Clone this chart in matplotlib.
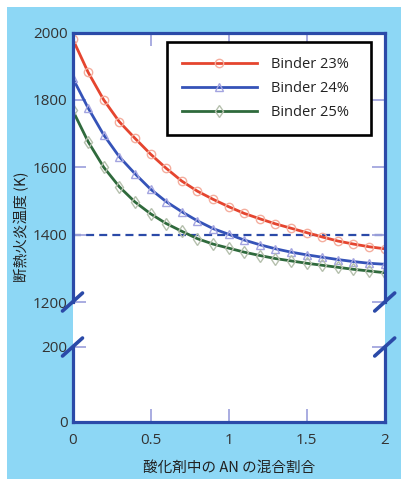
import matplotlib.pyplot as plt
from matplotlib.patches import Rectangle
from matplotlib.lines import Line2D

# data
x = [0.0, 0.1, 0.2, 0.3, 0.4, 0.5, 0.6, 0.7, 0.8, 0.9, 1.0,
     1.1, 1.2, 1.3, 1.4, 1.5, 1.6, 1.7, 1.8, 1.9, 2.0]
binder23 = [1982, 1882, 1800, 1735, 1686, 1639, 1597, 1559, 1529, 1505, 1483,
            1463, 1447, 1432, 1419, 1406, 1393, 1381, 1372, 1364, 1358]
binder24 = [1866, 1776, 1696, 1631, 1581, 1535, 1498, 1468, 1441, 1418, 1401,
            1384, 1370, 1358, 1348, 1340, 1333, 1326, 1320, 1315, 1312]
binder25 = [1770, 1676, 1600, 1542, 1497, 1462, 1433, 1410, 1388, 1372, 1360,
            1348, 1338, 1329, 1322, 1315, 1309, 1303, 1297, 1292, 1287]
labels = ['Binder 23%', 'Binder 24%', 'Binder 25%']
limit_temp = 1400

W, H = 401, 479
bg = '#8dd7f5'
spine_c = '#2b4aa8'
tick_c = '#a3a6de'
text_c = '#333333'

plt.rcParams['font.family'] = ['Open Sans', 'Noto Sans CJK JP', 'DejaVu Sans']

fig = plt.figure(figsize=(W / 100, H / 100), dpi=100)
fig.patch.set_facecolor('white')

def fx(px):
    return px / W

def fy(py):
    return 1 - py / H

# light blue panel
fig.add_artist(Rectangle((fx(7), 0), 1 - fx(7), fy(7), transform=fig.transFigure,
                         facecolor=bg, edgecolor='none', zorder=-2))

left, right = 72.5, 384.7
top, brk_hi, brk_lo, bottom = 32.5, 302, 347, 421.7

# white gap between the two parts
fig.add_artist(Rectangle((fx(left), fy(brk_lo)), fx(right) - fx(left), fy(brk_hi) - fy(brk_lo),
                         transform=fig.transFigure, facecolor='white', edgecolor='none', zorder=-1))

ax1 = fig.add_axes([fx(left), fy(brk_hi), fx(right) - fx(left), fy(top) - fy(brk_hi)])
ax2 = fig.add_axes([fx(left), fy(bottom), fx(right) - fx(left), fy(brk_lo) - fy(bottom)])

styles = [
    dict(color='#e5452f', marker='o', mec='#f4ad9d'),
    dict(color='#3553b8', marker='^', mec='#a3a4e0'),
    dict(color='#2f6a3c', marker='d', mec='#b5c0ad'),
]
for ys, lab, st in zip([binder23, binder24, binder25], labels, styles):
    ax1.plot(x, ys, color=st['color'], lw=2.0, marker=st['marker'], mfc='none',
             mec=st['mec'], ms=6, mew=1.0, label=lab)

ax1.plot([x[0], x[-1]], [limit_temp, limit_temp], color=spine_c, lw=1.6,
         ls=(0, (3.6, 2.3)), zorder=1)

for ax in (ax1, ax2):
    ax.set_xlim(0, 2)
    ax.set_xticks([0, 0.5, 1, 1.5, 2])
    for s in ax.spines.values():
        s.set_color(spine_c)
        s.set_linewidth(2.3)
    ax.tick_params(direction='in', length=9.5, width=1.3, color=tick_c,
                   labelsize=11, labelcolor=text_c, top=True, right=True)
    ax.tick_params(axis='y', pad=3.5)
    ax.tick_params(axis='x', pad=8)

ax1.set_ylim(1200, 2000)
ax1.set_yticks([1200, 1400, 1600, 1800, 2000])
ax1.spines['bottom'].set_visible(False)
ax1.tick_params(axis='x', bottom=False, labelbottom=False)

ax2.set_ylim(0, 200)
ax2.set_yticks([0, 200])
ax2.spines['top'].set_visible(False)
ax2.tick_params(axis='x', top=False)
ax2.set_xticklabels(['0', '0.5', '1', '1.5', '2'])

leg = ax1.legend(loc='upper left', bbox_to_anchor=(0.3026, 0.6197, 0.655, 0.344),
                 mode='expand', borderaxespad=0,
                 fontsize=10.5, handlelength=5.2, handletextpad=0.9, labelspacing=0.62,
                 borderpad=1.0, fancybox=False, framealpha=1, edgecolor='black')
leg.get_frame().set_linewidth(1.9)
for t in leg.get_texts():
    t.set_color('#222222')

# axis break marks
for bx in (left, right):
    for by in (brk_hi, brk_lo):
        fig.add_artist(Line2D([fx(bx - 10), fx(bx + 10)], [fy(by + 9), fy(by - 9)],
                              transform=fig.transFigure, color=spine_c, lw=2.6,
                              solid_capstyle='round'))

fig.text(fx(22), fy(227), '断熱火炎温度 (K)', rotation=90, ha='center', va='center',
         fontsize=10.5, color='#222222', family=['Noto Sans CJK JP', 'DejaVu Sans'])
fig.text(fx(229), fy(468), '酸化剤中の AN の混合割合', ha='center', va='center',
         fontsize=10.5, color='#222222', family=['Noto Sans CJK JP', 'DejaVu Sans'])

fig.savefig('out.png', dpi=100)
